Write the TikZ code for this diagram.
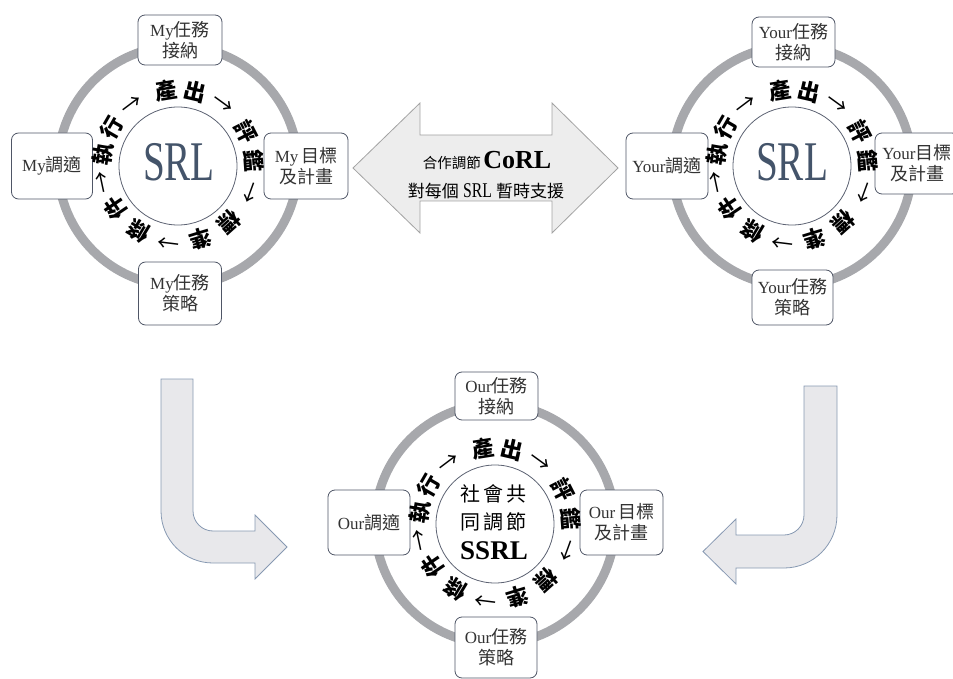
\documentclass[tikz,border=0pt]{standalone}
\usepackage{fontspec}
\setmainfont{Liberation Serif}
\newfontfamily\cjk{Noto Sans CJK TC}
\newcommand\C[1]{{\cjk #1}}
\newcommand\K[1]{{\cjk\fontsize{18}{21}\selectfont #1}}
\newcommand\Ar{{\mdseries →}}
\usetikzlibrary{calc}
\definecolor{ringc}{HTML}{A7A8AC}
\definecolor{boxc}{HTML}{4F5666}
\definecolor{innerc}{HTML}{5C6272}
\definecolor{srlc}{HTML}{44546A}
\definecolor{boxtext}{HTML}{333333}
\definecolor{arrfill}{HTML}{E8E8EB}
\definecolor{arrline}{HTML}{8799B2}
\definecolor{darrfill}{HTML}{EDEDED}
\definecolor{darrline}{HTML}{A3A3A3}
\newcommand\cycletext[1]{%
  \foreach \a/\t [count=\i] in {171/執,150/行,127/\Ar,99/產,77/出,54/\Ar,27/評,4/鑑,-20/\Ar,-48/標,-73/準,-97/\Ar,-121/條,-146/件,-168/\Ar}{%
    \node[cyc,rotate=\a-90] (#1t\i) at ($(#1)+(\a:76pt)$) {\t};
  }%
}
\begin{document}
\begin{tikzpicture}[x=1pt,y=-1pt,
 ring/.style={draw=ringc,line width=9pt},
 innerc/.style={draw=innerc,line width=0.8pt,fill=white},
 task/.style={draw=boxc,line width=0.8pt,fill=white,rounded corners=7pt,inner sep=0pt,align=center,text=boxtext,font=\fontsize{17}{21}\selectfont},
 cyc/.style={inner sep=-1pt,font=\cjk\bfseries\fontsize{22}{22}\selectfont},
 bigsrl/.style={text=srlc,font=\fontsize{56}{56}\selectfont,inner sep=0pt},
 bent/.style={fill=arrfill,draw=arrline,line width=0.8pt},
 darr/.style={fill=darrfill,draw=darrline,line width=0.8pt},
 ]
\useasboundingbox (0,0) rectangle (953,679);

\coordinate (c1) at (178,166);
\coordinate (c2) at (792,166);
\coordinate (c3) at (495,524);

% rings
\draw[ring] (c1) circle[radius=120pt];
\draw[ring] (c2) circle[radius=120pt];
\draw[ring] (c3) circle[radius=120pt];
\draw[innerc] (c1) circle[radius=59pt];
\draw[innerc] (c2) circle[radius=59pt];
\draw[innerc] (c3) circle[radius=59pt];

% double arrow
\draw[darr] (353,168) -- (420,103) -- (420,135) -- (552,135) -- (552,103) -- (618,168)
  -- (552,233) -- (552,201) -- (420,201) -- (420,233) -- cycle;
\node[inner sep=0pt] (corl1) at (487,160) {\C{\fontsize{14.5}{14.5}\selectfont 合作調節}\ {\bfseries\fontsize{26}{26}\selectfont CoRL}};
\node[inner sep=0pt] (corl2) at (486,191) {\fontsize{17}{17}\selectfont\C{對每個} \scalebox{0.75}[1]{\fontsize{21}{21}\selectfont SRL} \C{暫時支援}};

% bent arrows
\draw[bent] (161,379) -- (193,379) -- (193,511) .. controls (193,522) and (202,531) .. (213,531)
  -- (255,531) -- (255,515) -- (287,547) -- (255,579) -- (255,563) -- (213,563)
  .. controls (184.3,563) and (161,539.7) .. (161,511) -- cycle;
\draw[bent] (804,386) -- (837,386) -- (837,515) .. controls (837,544.3) and (813.3,568) .. (784,568)
  -- (736,568) -- (736,584) -- (703,551.5) -- (736,519) -- (736,535) -- (784,535)
  .. controls (795,535) and (804,526) .. (804,515) -- cycle;

% boxes top-left
\node[task,minimum width=84pt,minimum height=50pt] (t1) at (180,40) {My\K{任務}\\\K{接納}};
\node[task,minimum width=81pt,minimum height=66pt] (l1) at (52,166) {My\K{調適}};
\node[task,minimum width=84pt,minimum height=66pt] (r1) at (306,166) {My\,\K{目標}\\\K{及計畫}};
\node[task,minimum width=83pt,minimum height=63pt] (b1) at (180,293.5) {My\K{任務}\\\K{策略}};
% boxes top-right
\node[task,minimum width=83pt,minimum height=50pt] (t2) at (793.5,42) {Your\K{任務}\\\K{接納}};
\node[task,minimum width=82pt,minimum height=66pt] (l2) at (667,166) {Your\K{調適}};
\node[task,minimum width=84pt,minimum height=61pt] (r2) at (917,163.5) {Your\K{目標}\\\K{及計畫}};
\node[task,minimum width=81pt,minimum height=55pt] (b2) at (792.5,297.5) {Your\K{任務}\\\K{策略}};
% boxes bottom
\node[task,minimum width=83pt,minimum height=48pt] (t3) at (496.5,396) {Our\K{任務}\\\K{接納}};
\node[task,minimum width=82pt,minimum height=65pt] (l3) at (369,522.5) {Our\K{調適}};
\node[task,minimum width=83pt,minimum height=65pt] (r3) at (621.5,522.5) {Our\,\K{目標}\\\K{及計畫}};
\node[task,minimum width=82pt,minimum height=61pt] (b3) at (496,647.5) {Our\K{任務}\\\K{策略}};

% centre texts
\node[bigsrl] (srl1) at (179,162) {\scalebox{0.7}[1]{SRL}};
\node[bigsrl] (srl2) at (792,162) {\scalebox{0.7}[1]{SRL}};
\node[inner sep=0pt,font=\cjk\fontsize{20}{20}\selectfont] (s1) at (493,494) {社\hspace{3pt}會\hspace{3pt}共};
\node[inner sep=0pt,font=\cjk\fontsize{20}{20}\selectfont] (s2) at (493,522) {同\hspace{3pt}調\hspace{3pt}節};
\node[inner sep=0pt,font=\bfseries\fontsize{27}{27}\selectfont] (s3) at (494,551) {SSRL};

% cycle texts
\cycletext{c1}
\cycletext{c2}
\cycletext{c3}
\end{tikzpicture}
\end{document}
